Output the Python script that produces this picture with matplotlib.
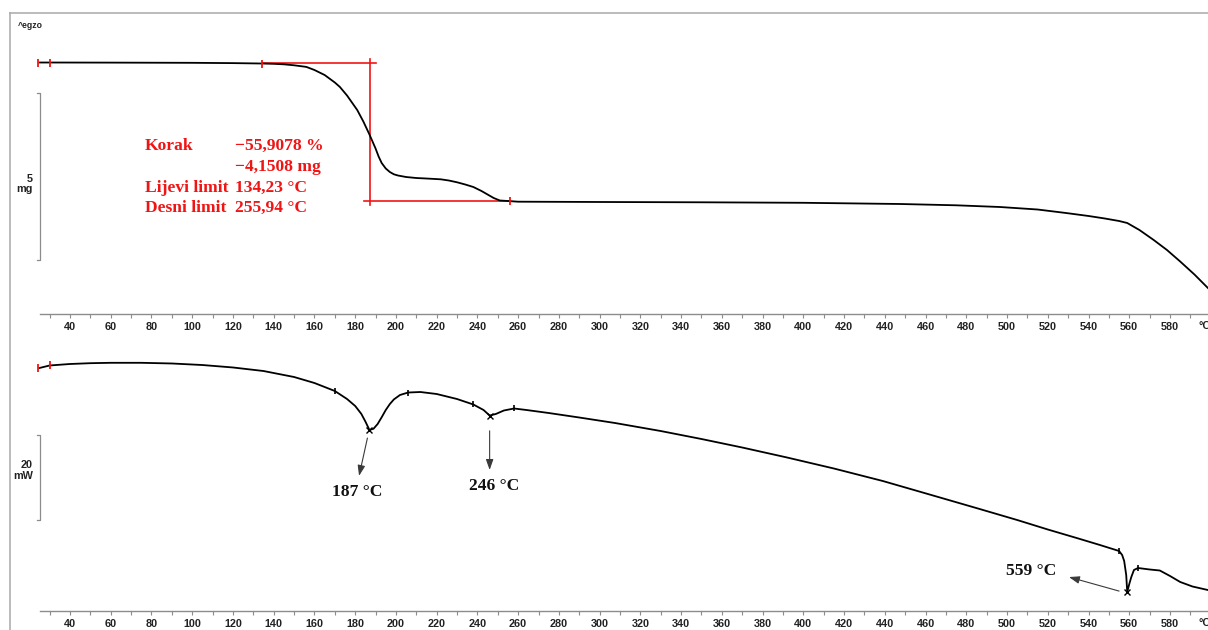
import numpy as np
import matplotlib
matplotlib.use("Agg")
import matplotlib.pyplot as plt
from matplotlib.lines import Line2D
from matplotlib.transforms import blended_transform_factory, ScaledTranslation

# ---- TG: sample mass (mg) vs temperature (°C) ----
tg_temp = [25, 30, 60, 100, 120, 134.23, 140, 145, 150, 156, 160, 165, 170,
           172.5, 176, 181, 184, 187, 190, 191.5, 193, 195, 197, 199, 201,
           205, 210, 215, 222, 226, 230, 234, 238, 242, 245, 248, 251, 255.94,
           260, 300, 350, 400, 447.5, 475, 496.5, 515, 529, 540, 548, 555,
           559, 565, 572, 578.5, 585, 592, 598.6, 600]
tg_mass = [7.424, 7.424, 7.421, 7.415, 7.406, 7.394, 7.385, 7.370, 7.341,
           7.293, 7.200, 7.050, 6.826, 6.691, 6.436, 6.002, 5.658, 5.269,
           4.850, 4.610, 4.415, 4.251, 4.146, 4.077, 4.041, 3.996, 3.966,
           3.951, 3.927, 3.891, 3.838, 3.772, 3.697, 3.577, 3.472, 3.367,
           3.293, 3.274, 3.257, 3.248, 3.239, 3.224, 3.188, 3.149, 3.098,
           3.023, 2.918, 2.829, 2.754, 2.679, 2.619, 2.409, 2.110, 1.811,
           1.466, 1.077, 0.673, 0.598]

# step evaluation
step_percent = -55.9078
step_mg = -4.1508
left_limit = 134.23
right_limit = 255.94
step_mid = 187.5

# ---- DSC: heat flow (mW) vs temperature (°C) ----
dsc_temp = [25, 30, 40, 50, 60, 75, 90, 105, 120, 135, 150, 160, 170, 176,
            180, 183, 185, 187, 189, 191, 193, 195, 197, 199, 202, 206, 212,
            220, 230, 238, 243, 246, 249, 253, 258, 264, 275, 290, 307.5, 330,
            350, 370, 392, 415, 439, 462, 485.7, 505, 520, 535, 545.6, 555,
            556.5, 557.5, 558.5, 559, 560, 561, 562.3, 564.3, 570, 575, 580,
            585, 591, 598.6]
dsc_mw = [-1.41, -0.82, -0.47, -0.28, -0.19, -0.19, -0.35, -0.71, -1.29,
          -2.12, -3.53, -4.94, -6.82, -8.71, -10.35, -12.20, -14.00, -16.00,
          -15.70, -14.60, -13.00, -11.30, -9.90, -8.80, -7.76, -7.18, -7.06,
          -7.53, -8.71, -10.00, -11.29, -12.59, -12.24, -11.41, -10.94,
          -11.29, -12.00, -13.06, -14.35, -16.24, -18.12, -20.12, -22.47,
          -25.06, -28.00, -31.18, -34.47, -37.18, -39.41, -41.53, -43.06,
          -44.47, -45.41, -46.82, -50.12, -54.12, -52.24, -50.59, -48.94,
          -48.47, -48.82, -49.06, -50.35, -51.76, -52.82, -53.65]
dsc_peaks = [187, 246, 559]
dsc_peak_labels = ["187 °C", "246 °C", "559 °C"]
dsc_limits = [170, 206, 238, 258, 555, 564.3]

xticks_major = list(range(40, 600, 20))
xticks_minor = list(range(30, 600, 10))

W, H = 1208, 630
fig = plt.figure(figsize=(W / 100, H / 100), dpi=100)
fig.patch.set_facecolor("white")

SANS = ["Liberation Sans", "DejaVu Sans"]
SERIF = ["Liberation Serif", "DejaVu Serif"]
RED = "#f01414"
GRAY = "#8c8c8c"


def px_axes(left, top, right, bottom):
    return fig.add_axes([left / W, 1 - bottom / H, (right - left) / W,
                         (bottom - top) / H])


ax1 = px_axes(40, 20, 1208, 314)
ax2 = px_axes(40, 330, 1208, 611)

for ax in (ax1, ax2):
    ax.set_xlim(25.27, 598.65)
    for s in ("top", "right", "left"):
        ax.spines[s].set_visible(False)
    ax.spines["bottom"].set_color(GRAY)
    ax.spines["bottom"].set_linewidth(1.0)
    ax.set_yticks([])
    ax.set_xticks(xticks_major)
    ax.set_xticks(xticks_minor, minor=True)
    ax.tick_params(axis="x", which="both", direction="out", length=2.6,
                   width=0.8, color=GRAY, pad=3.2)
    ax.set_xticklabels([str(t) for t in xticks_major], fontfamily=SANS,
                       fontweight="bold", fontsize=7.8, color="#222222")
    ax.patch.set_alpha(0)
    # unit label at the right end of the axis
    off = ScaledTranslation(0, -0.12, fig.dpi_scale_trans)
    ax.text(593.8, 0, "°C", transform=ax.get_xaxis_transform() + off,
            ha="left", va="center", fontfamily=SANS, fontweight="bold",
            fontsize=7.8, color="#222222", clip_on=False)

ax1.set_ylim(-0.1056, 8.6969)
ax2.set_ylim(-58.588, 7.529)

# ---- TG panel ----
m0 = -step_mg / (-step_percent / 100.0)
m_end = m0 + step_mg
ax1.plot(tg_temp, tg_mass, color="black", lw=1.3, zorder=3, clip_on=False,
         solid_joinstyle="round")

# step construction lines
ax1.plot([left_limit, 190.2], [m0, m0], color=RED, lw=1.2, zorder=2)
ax1.plot([step_mid, step_mid], [m0 + 0.09, m_end - 0.12], color=RED, lw=1.2,
         zorder=2)
ax1.plot([184.3, right_limit], [m_end, m_end], color=RED, lw=1.2, zorder=2)
i_l = tg_temp.index(left_limit)
i_r = tg_temp.index(right_limit)
ax1.plot([tg_temp[i_l], tg_temp[i_r]], [tg_mass[i_l], tg_mass[i_r]],
         ls="none", marker="|", ms=6, mew=1.3, color=RED, zorder=4)
ax1.plot([24.3, tg_temp[1]], [tg_mass[0], tg_mass[1]], ls="none", marker="|",
         ms=6, mew=1.3, color=RED, zorder=4, clip_on=False)

rows = [("Korak", f"{step_percent:.4f} %"),
        ("", f"{step_mg:.4f} mg"),
        ("Lijevi limit", f"{left_limit:.2f} °C"),
        ("Desni limit", f"{right_limit:.2f} °C")]
row_y = [4.805, 4.176, 3.547, 2.948]
for (lab, val), yy in zip(rows, row_y):
    val = val.replace("-", "\u2212").replace(".", ",")
    if lab:
        ax1.text(76.8, yy, lab, color=RED, fontfamily=SERIF, fontweight="bold",
                 fontsize=12.6, va="baseline", ha="left")
    ax1.text(121.0, yy, val, color=RED, fontfamily=SERIF, fontweight="bold",
             fontsize=12.6, va="baseline", ha="left")

# ---- DSC panel ----
ax2.plot(dsc_temp, dsc_mw, color="black", lw=1.3, zorder=3, clip_on=False,
         solid_joinstyle="round")
ax2.plot([24.3, dsc_temp[1]], [dsc_mw[0], dsc_mw[1]], ls="none", marker="|",
         ms=6, mew=1.3, color=RED, zorder=4, clip_on=False)
lim_y = [dsc_mw[dsc_temp.index(t)] for t in dsc_limits]
ax2.plot(dsc_limits, lim_y, ls="none", marker="|", ms=5, mew=1.2,
         color="black", zorder=4)
peak_y = [dsc_mw[dsc_temp.index(t)] for t in dsc_peaks]
ax2.plot(dsc_peaks, peak_y, ls="none", marker="x", ms=4, mew=1.0,
         color="black", zorder=4)

arrow_kw = dict(arrowstyle="-|>,head_length=0.45,head_width=0.16",
                mutation_scale=14, color="#3a3a3a", lw=0.8, shrinkA=0,
                shrinkB=0)
arrows = [((186.0, -17.9), (181.9, -26.8)),
          ((246.0, -16.2), (246.0, -25.4)),
          ((555.0, -53.9), (530.4, -50.6))]
label_pos = [(180.9, -30.6), (248.0, -29.2), (511.8, -49.2)]
for (tail, head), lab, pos in zip(arrows, dsc_peak_labels, label_pos):
    ax2.annotate("", xy=head, xytext=tail, arrowprops=arrow_kw)
    ax2.text(pos[0], pos[1], lab, ha="center", va="center", fontfamily=SERIF,
             fontweight="bold", fontsize=12.6, color="#111111")

# ---- scale bars ----
def scale_bar(ax, y0, y1, label, ymid):
    tr = blended_transform_factory(ax.transAxes, ax.transData)
    dx = 3.5 / 1168
    ax.plot([-dx, 0, 0, -dx], [y0, y0, y1, y1], color=GRAY, lw=0.9,
            transform=tr, clip_on=False)
    ax.text(-7 / 1168, ymid, label, transform=tr, ha="right", va="center",
            multialignment="right", fontfamily=SANS, fontweight="bold",
            fontsize=7.8, color="#222222", linespacing=1.05)


scale_bar(ax1, 1.5, 6.5, "5\nmg", 3.78)
scale_bar(ax2, -37.2, -17.2, "20\nmW", -25.5)

# ---- frame and corner label ----
fig.add_artist(Line2D([10 / W, 10 / W], [0, 1 - 13 / H], color="#a8a8a8",
                      lw=1.1, transform=fig.transFigure))
fig.add_artist(Line2D([10 / W, 1], [1 - 13 / H, 1 - 13 / H], color="#a8a8a8",
                      lw=1.1, transform=fig.transFigure))
fig.text(18 / W, 1 - 26 / H, "^egzo", fontfamily=SANS, fontweight="bold",
         fontsize=6.2, color="#222222", va="center", ha="left")

fig.savefig("out.png", dpi=100)
